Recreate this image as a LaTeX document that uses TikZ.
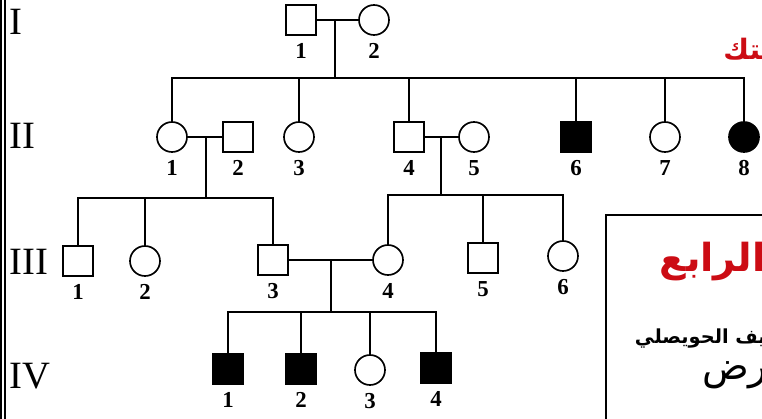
\documentclass[tikz,border=0pt]{standalone}
\usepackage{fontspec}
\setmainfont{Liberation Serif}
\newfontfamily\arabicfont[Script=Arabic]{DejaVu Sans}
\TeXXeTstate=1
\definecolor{qred}{RGB}{204,12,20}

\tikzset{
  person/.style={draw, line width=0.95pt, minimum size=0.6cm, inner sep=0pt},
  male/.style={person, rectangle},
  female/.style={person, circle},
  affmale/.style={male, fill=black},
  afffemale/.style={female, fill=black},
  num/.style={font=\bfseries\fontsize{13}{13}\selectfont, inner sep=0pt},
  gen/.style={anchor=west, inner sep=0pt, font=\fontsize{22}{22}\selectfont},
  line/.style={line width=0.85pt},
  artext/.style={anchor=east, inner sep=0pt}
}

\begin{document}
\begin{tikzpicture}[x=0.02cm, y=-0.02cm, label distance=0.15cm]

\useasboundingbox (0,0) rectangle (762,419);
\clip (0,0) rectangle (762,419);

% page border on the left
\draw [line width=1.1pt] (1,0) -- (1,419);
\draw [line width=1.1pt] (5,0) -- (5,419);

% generation numerals
\node[gen] (gI)   at (9,22)  {I};
\node[gen] (gII)  at (9,136) {II};
\node[gen] (gIII) at (9,262) {III};
\node[gen] (gIV)  at (9,376) {IV};

% generation I
\node[male,   label={[num]below:1}] (I1) at (301,20) {};
\node[female, label={[num]below:2}] (I2) at (374,20) {};
\draw[line] (I1) -- (I2);
\coordinate (mI) at (335,20);
\coordinate (sI) at (335,78);
\draw[line] (mI) -- (sI);

% generation II
\node[female,    label={[num]below:1}] (II1) at (172,137) {};
\node[male,      label={[num]below:2}] (II2) at (238,137) {};
\node[female,    label={[num]below:3}] (II3) at (299,137) {};
\node[male,      label={[num]below:4}] (II4) at (409,137) {};
\node[female,    label={[num]below:5}] (II5) at (474,137) {};
\node[affmale,   label={[num]below:6}] (II6) at (576,137) {};
\node[female,    label={[num]below:7}] (II7) at (665,137) {};
\node[afffemale, label={[num]below:8}] (II8) at (744,137) {};

\draw[line] (II1.north) |- (sI) -| (II8.north);
\foreach \k in {3,4,6,7}
  \draw[line] (II\k.north) -- (II\k.north |- sI);

% couples of generation II
\draw[line] (II1) -- (II2);
\coordinate (mII12) at (206,137);
\coordinate (sII12) at (206,198);
\draw[line] (mII12) -- (sII12);

\draw[line] (II4) -- (II5);
\coordinate (mII45) at (441,137);
\coordinate (sII45) at (441,195);
\draw[line] (mII45) -- (sII45);

% generation III
\node[male,   label={[num]below:1}] (III1) at (78,261)  {};
\node[female, label={[num]below:2}] (III2) at (145,261) {};
\node[male,   label={[num]below:3}] (III3) at (273,260) {};
\node[female, label={[num]below:4}] (III4) at (388,260) {};
\node[male,   label={[num]below:5}] (III5) at (483,258) {};
\node[female, label={[num]below:6}] (III6) at (563,256) {};

\draw[line] (III1.north) |- (sII12) -| (III3.north);
\draw[line] (III2.north) -- (III2.north |- sII12);
\draw[line] (III4.north) |- (sII45) -| (III6.north);
\draw[line] (III5.north) -- (III5.north |- sII45);

% couple of generation III
\draw[line] (III3) -- (III4);
\coordinate (mIII) at (331,260);
\coordinate (sIII) at (331,312);
\draw[line] (mIII) -- (sIII);

% generation IV
\node[affmale, label={[num]below:1}] (IV1) at (228,369) {};
\node[affmale, label={[num]below:2}] (IV2) at (301,369) {};
\node[female,  label={[num]below:3}] (IV3) at (370,370) {};
\node[affmale, label={[num]below:4}] (IV4) at (436,368) {};

\draw[line] (IV1.north) |- (sIII) -| (IV4.north);
\foreach \k in {2,3}
  \draw[line] (IV\k.north) -- (IV\k.north |- sIII);

% box on the right
\draw [line width=1.3pt] (606,419) -- (606,215) -- (762,215);

% cut arabic texts
\node[artext, text=qred, font=\arabicfont\bfseries\fontsize{16}{16}\selectfont] (tTop) at (772,51) {\beginR بتك\endR};
\node[artext, text=qred, font=\arabicfont\bfseries\fontsize{22}{22}\selectfont] (tRed) at (766,262) {\beginR الرابع\endR};
\node[artext, font=\arabicfont\bfseries\fontsize{11}{11}\selectfont] (tSmall) at (766,339) {\beginR يف الحويصلي\endR};
\node[artext, font=\arabicfont\fontsize{22}{22}\selectfont] (tBig) at (768,375) {\beginR رض\endR};

\end{tikzpicture}
\end{document}
